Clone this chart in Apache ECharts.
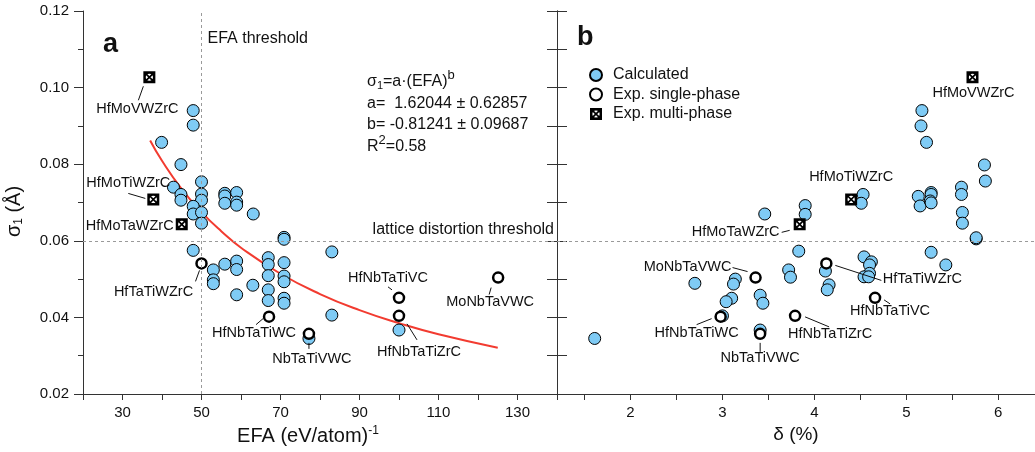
<!DOCTYPE html>
<html>
<head>
<meta charset="utf-8">
<title>sigma1 vs EFA and delta</title>
<script src="https://cdn.jsdelivr.net/npm/echarts@6.0.0/dist/echarts.min.js"></script>
<style>
  html, body { margin: 0; padding: 0; background: #fff; }
  #chart { width: 1035px; height: 452px; }
</style>
</head>
<body>
<div id="chart"></div>
<script>
// calculated alloys, panel a: [EFA, sigma1]
const efaCalc = [
  [47.9, 0.0940], [47.9, 0.0902], [39.9, 0.0857], [44.8, 0.0799], [50.0, 0.0754],
  [42.9, 0.0740], [44.8, 0.0721], [44.8, 0.0706], [50.0, 0.0722], [50.0, 0.0706],
  [47.9, 0.0690], [47.9, 0.0670], [50.0, 0.0674], [50.0, 0.0646], [55.9, 0.0724],
  [55.9, 0.0717], [55.9, 0.0698], [58.9, 0.0726], [58.9, 0.0701], [58.9, 0.0693],
  [63.1, 0.0670], [70.9, 0.0609], [70.9, 0.0604], [83.0, 0.0571], [47.9, 0.0575],
  [53.0, 0.0524], [53.0, 0.0498], [53.0, 0.0488], [55.9, 0.0539], [58.9, 0.0547],
  [58.9, 0.0525], [58.9, 0.0459], [63.0, 0.0484], [66.9, 0.0556], [66.9, 0.0538],
  [66.9, 0.0509], [66.9, 0.0472], [66.9, 0.0444], [70.9, 0.0543], [70.9, 0.0508],
  [70.9, 0.0493], [70.9, 0.0450], [70.9, 0.0437], [83.0, 0.0406], [77.2, 0.0345],
  [100.0, 0.0367]
];
// calculated alloys, panel b: [delta, sigma1]
const deltaCalc = [
  [5.17, 0.0940], [5.16, 0.0900], [5.22, 0.0857], [5.85, 0.0798], [5.86, 0.0756],
  [5.60, 0.0740], [5.60, 0.0721], [5.61, 0.0674], [5.61, 0.0646], [5.76, 0.0605],
  [5.76, 0.0608], [5.13, 0.0716], [5.15, 0.0691], [5.27, 0.0726], [5.27, 0.0721],
  [5.26, 0.0704], [5.27, 0.0699], [4.53, 0.0721], [4.51, 0.0698], [3.90, 0.0692],
  [3.90, 0.0669], [3.46, 0.0670], [3.83, 0.0573], [5.27, 0.0570], [5.43, 0.0537],
  [3.72, 0.0524], [3.74, 0.0505], [4.12, 0.0521], [4.16, 0.0485], [4.14, 0.0472],
  [4.54, 0.0558], [4.62, 0.0545], [4.60, 0.0537], [4.60, 0.0515], [4.54, 0.0506],
  [4.59, 0.0506], [1.61, 0.0345], [2.70, 0.0489], [3.14, 0.0500], [3.12, 0.0487],
  [3.10, 0.0450], [3.04, 0.0441], [3.00, 0.0404], [3.41, 0.0458], [3.44, 0.0437],
  [3.41, 0.0367]
];

// experimental single-phase
const singleNames = ['HfTaTiWZrC', 'HfNbTaTiWC', 'NbTaTiVWC', 'HfNbTaTiVC', 'HfNbTaTiZrC', 'MoNbTaVWC'];
const singleEFA = [50.0, 67.1, 77.2, 100.0, 100.0, 125.1];
const singleDelta = [4.13, 2.98, 3.41, 4.66, 3.79, 3.36];
const singleSigma = [0.0541, 0.0402, 0.0357, 0.0451, 0.0404, 0.0504];

// experimental multi-phase
const multiNames = ['HfMoVWZrC', 'HfMoTiWZrC', 'HfMoTaWZrC'];
const multiEFA = [36.8, 37.8, 45.0];
const multiDelta = [5.72, 4.40, 3.84];
const multiSigma = [0.1027, 0.0708, 0.0643];

// power law fit
const fitEFA = [37, 40, 45, 50, 55, 60, 70, 80, 90, 100, 110, 125];
const fitSigma = [0.0862, 0.0809, 0.0735, 0.0675, 0.0625, 0.0582, 0.0514, 0.0461, 0.0419, 0.0385, 0.0356, 0.0321];

const efaThreshold = 50;
const sigmaThreshold = 0.06;

// tick labels
const efaTicks = [30, 50, 70, 90, 110, 130];
const deltaTicks = [2, 3, 4, 5, 6];
const deltaTickMarks = [1.5, 2, 2.5, 3, 3.5, 4, 4.5, 5, 5.5, 6];

// ---- styling ----
const FONT = "'Liberation Sans', Arial, Helvetica, sans-serif";
const INK = '#111';
const BLUE = '#7fcbf5';
const axisLine = { show: true, lineStyle: { color: '#333', width: 1 } };
const multiSymbol = 'path://M0,0L12,0L12,12L0,12Z ' +
  'M6,2.4A3.6,3.6 0 0 0 2.4,6A3.6,3.6 0 0 0 6,9.6A3.6,3.6 0 0 0 9.6,6A3.6,3.6 0 0 0 6,2.4Z ' +
  'M2.2,3.4L3.4,2.2L9.8,8.6L8.6,9.8Z M8.6,2.2L9.8,3.4L3.4,9.8L2.2,8.6Z';

// label offsets (px) from each point
const leftSingleOffsets = [[-48, 29], [-15, 16], [3, 25], [-11, -20], [20, 36], [-8, 24]];
const rightSingleOffsets = [[96, 16], [-24, 16], [0, 24], [15, 13], [35, 18], [-68, -11]];
const leftMultiOffsets = [[-12, 32], [-25, -16], [-52, 2]];
const rightMultiOffsets = [[1, 16], [0, -22], [-64, 8]];
// leader lines, [x1, y1, x2, y2] in px relative to the point
const leftSingleLeaders = [[-2, 7, -6, 18], [-6, 2, -13, 8], [0, 9, 0, 15], [-11, -11, -7, -8], [8, 8, 18, 24], [-7, 10, -9, 17]];
const rightSingleLeaders = [[9, 2, 55, 17], [-24, 8, -9, 2], [0, 9, 0, 18], [9, 2, 15, 6], [10, 1, 34, 11], [-23, -10, -8, -6]];
const leftMultiLeaders = [[-6, 9, -11, 23], [-25, -6, -8, -1], null];
const rightMultiLeaders = [null, null, [-18, 8, -10, 6]];

const pointLabel = { show: true, formatter: '{b}', position: 'inside', color: INK, fontSize: 14.5, fontFamily: FONT };

function named(names, xs, ys) {
  return names.map((n, i) => ({ name: n, value: [xs[i], ys[i]] }));
}
function offsetLayout(offsets) {
  return function (p) { return { dx: offsets[p.dataIndex][0], dy: offsets[p.dataIndex][1] }; };
}

const dotted = { color: '#9a9a9a', width: 1, type: [3, 3] };

const chart = echarts.init(document.getElementById('chart'));

const option = {
  animation: false,
  textStyle: { fontFamily: FONT },
  grid: [
    { left: 83, top: 11, width: 474, height: 383 },
    { left: 557, top: 11, width: 478, height: 383 }
  ],
  legend: {
    data: ['Calculated', 'Exp. single-phase', 'Exp. multi-phase'],
    orient: 'vertical',
    left: 584, top: 62,
    itemWidth: 24, itemHeight: 12, itemGap: 3.5,
    textStyle: { fontSize: 16, color: INK, fontFamily: FONT }
  },
  xAxis: [
    {
      gridIndex: 0, type: 'value', min: 20, max: 140, interval: 10,
      axisLine: axisLine,
      axisTick: { length: 6, lineStyle: { color: '#333' } },
      axisLabel: { customValues: efaTicks, fontSize: 15, color: INK, margin: 11 },
      splitLine: { show: false },
      name: '{n|EFA (eV/atom)}{p|-1}', nameLocation: 'middle', nameGap: 31,
      nameTextStyle: {
        color: INK, padding: [0, 24, 0, 0],
        rich: { n: { fontSize: 20, fontFamily: FONT, color: INK }, p: { fontSize: 12, fontFamily: FONT, color: INK, padding: [0, 0, 10, 0] } }
      }
    },
    {
      gridIndex: 1, type: 'value', min: 1.2, max: 6.4,
      axisLine: axisLine,
      axisTick: { customValues: deltaTickMarks, length: 6, lineStyle: { color: '#333' } },
      axisLabel: { customValues: deltaTicks, fontSize: 15, color: INK, margin: 11 },
      splitLine: { show: false },
      name: 'δ (%)', nameLocation: 'middle', nameGap: 31,
      nameTextStyle: { fontSize: 19, color: INK, fontFamily: FONT }
    }
  ],
  yAxis: [
    {
      gridIndex: 0, type: 'value', position: 'left', min: 0.02, max: 0.12, interval: 0.02,
      axisLine: axisLine,
      axisTick: { length: 9, lineStyle: { color: '#333' } },
      minorTick: { show: true, splitNumber: 2, length: 5, lineStyle: { color: '#333' } },
      axisLabel: { formatter: v => v.toFixed(2), fontSize: 15, color: INK, margin: 14 },
      splitLine: { show: false },
      name: '{n|σ}{s|1}{n| (Å)}', nameLocation: 'middle', nameGap: 58,
      nameTextStyle: {
        color: INK, padding: [0, 18, 0, 0],
        rich: { n: { fontSize: 20, fontFamily: FONT, color: INK }, s: { fontSize: 12, fontFamily: FONT, color: INK, padding: [9, 0, 0, 0] } }
      }
    },
    {
      // right edge of panel a, ticks pointing in
      gridIndex: 0, type: 'value', position: 'right', min: 0.02, max: 0.12, interval: 0.01,
      axisLine: axisLine,
      axisTick: { inside: true, length: 10, lineStyle: { color: '#333' } },
      axisLabel: { show: false },
      splitLine: { show: false }
    },
    {
      // left edge of panel b
      gridIndex: 1, type: 'value', position: 'left', min: 0.02, max: 0.12, interval: 0.01,
      axisLine: axisLine,
      axisTick: { inside: true, length: 10, lineStyle: { color: '#333' } },
      axisLabel: { show: false },
      splitLine: { show: false }
    }
  ],
  series: [
    // ---- panel a ----
    {
      name: 'fit', type: 'line', xAxisIndex: 0, yAxisIndex: 0,
      data: fitEFA.map((x, i) => [x, fitSigma[i]]),
      smooth: true, showSymbol: false, silent: true,
      lineStyle: { color: '#f23b30', width: 2 },
      z: 1,
      markLine: {
        silent: true, symbol: ['none', 'none'], lineStyle: dotted,
        label: { show: false },
        data: [
          { xAxis: efaThreshold },
          {
            yAxis: sigmaThreshold,
            label: { show: true, position: 'insideEndTop', formatter: 'lattice distortion threshold', fontSize: 16, color: INK, fontFamily: FONT, distance: 3 }
          }
        ]
      }
    },
    {
      name: 'Calculated', type: 'scatter', xAxisIndex: 0, yAxisIndex: 0,
      data: efaCalc, symbolSize: 12, z: 2,
      itemStyle: { color: BLUE, borderColor: '#000', borderWidth: 1, opacity: 1 }
    },
    {
      name: 'Exp. single-phase', type: 'scatter', xAxisIndex: 0, yAxisIndex: 0,
      data: named(singleNames, singleEFA, singleSigma), symbolSize: 10, z: 3,
      itemStyle: { color: '#fff', borderColor: '#000', borderWidth: 2.5, opacity: 1 },
      label: pointLabel, labelLayout: offsetLayout(leftSingleOffsets)
    },
    {
      name: 'Exp. multi-phase', type: 'scatter', xAxisIndex: 0, yAxisIndex: 0,
      data: named(multiNames, multiEFA, multiSigma), symbol: multiSymbol, symbolSize: 12, z: 4,
      itemStyle: { color: '#000', opacity: 1 },
      label: pointLabel, labelLayout: offsetLayout(leftMultiOffsets)
    },
    // ---- panel b ----
    {
      name: 'Calculated', type: 'scatter', xAxisIndex: 1, yAxisIndex: 2,
      data: deltaCalc, symbolSize: 12, z: 2,
      itemStyle: { color: BLUE, borderColor: '#000', borderWidth: 1, opacity: 1 },
      markLine: {
        silent: true, symbol: ['none', 'none'], lineStyle: dotted,
        label: { show: false },
        data: [{ yAxis: sigmaThreshold }]
      }
    },
    {
      name: 'Exp. single-phase', type: 'scatter', xAxisIndex: 1, yAxisIndex: 2,
      data: named(singleNames, singleDelta, singleSigma), symbolSize: 10, z: 3,
      itemStyle: { color: '#fff', borderColor: '#000', borderWidth: 2.5, opacity: 1 },
      label: pointLabel, labelLayout: offsetLayout(rightSingleOffsets)
    },
    {
      name: 'Exp. multi-phase', type: 'scatter', xAxisIndex: 1, yAxisIndex: 2,
      data: named(multiNames, multiDelta, multiSigma), symbol: multiSymbol, symbolSize: 12, z: 4,
      itemStyle: { color: '#000', opacity: 1 },
      label: pointLabel, labelLayout: offsetLayout(rightMultiOffsets)
    }
  ]
};

chart.setOption(option);

// leader lines from the points to their labels
const leaders = [];
function addLeaders(gridIndex, xs, ys, segs) {
  xs.forEach((x, i) => {
    const s = segs[i];
    if (!s) return;
    const p = chart.convertToPixel({ gridIndex: gridIndex }, [x, ys[i]]);
    leaders.push({
      type: 'line', z: 10, silent: true,
      shape: { x1: p[0] + s[0], y1: p[1] + s[1], x2: p[0] + s[2], y2: p[1] + s[3] },
      style: { stroke: INK, lineWidth: 1 }
    });
  });
}
addLeaders(0, singleEFA, singleSigma, leftSingleLeaders);
addLeaders(0, multiEFA, multiSigma, leftMultiLeaders);
addLeaders(1, singleDelta, singleSigma, rightSingleLeaders);
addLeaders(1, multiDelta, multiSigma, rightMultiLeaders);

// text annotations, placed from the axes
const topOfThreshold = chart.convertToPixel({ gridIndex: 0 }, [efaThreshold, 0.12]);
chart.setOption({
  graphic: leaders.concat([
    {
      type: 'text', left: topOfThreshold[0] + 6, top: topOfThreshold[1] + 20,
      style: { text: 'EFA threshold', font: '16px ' + FONT, fill: INK }
    },
    {
      type: 'text', left: 367, top: 69,
      style: {
        text: '{n|σ}{s|1}{n|=a·(EFA)}{p|b}\n{n|a=  1.62044 ± 0.62857}\n{n|b= -0.81241 ± 0.09687}\n{n|R}{p|2}{n|=0.58}',
        fill: INK,
        rich: {
          n: { fontSize: 16, fontFamily: FONT, fill: INK, lineHeight: 21.6 },
          s: { fontSize: 11, fontFamily: FONT, fill: INK, lineHeight: 21.6, padding: [8, 0, 0, 0] },
          p: { fontSize: 13, fontFamily: FONT, fill: INK, lineHeight: 21.6, padding: [0, 0, 12, 0] }
        }
      }
    },
    { type: 'text', left: 103, top: 31, style: { text: 'a', font: 'bold 27px ' + FONT, fill: INK } },
    { type: 'text', left: 577, top: 24, style: { text: 'b', font: 'bold 27px ' + FONT, fill: INK } }
  ])
});
</script>
</body>
</html>
